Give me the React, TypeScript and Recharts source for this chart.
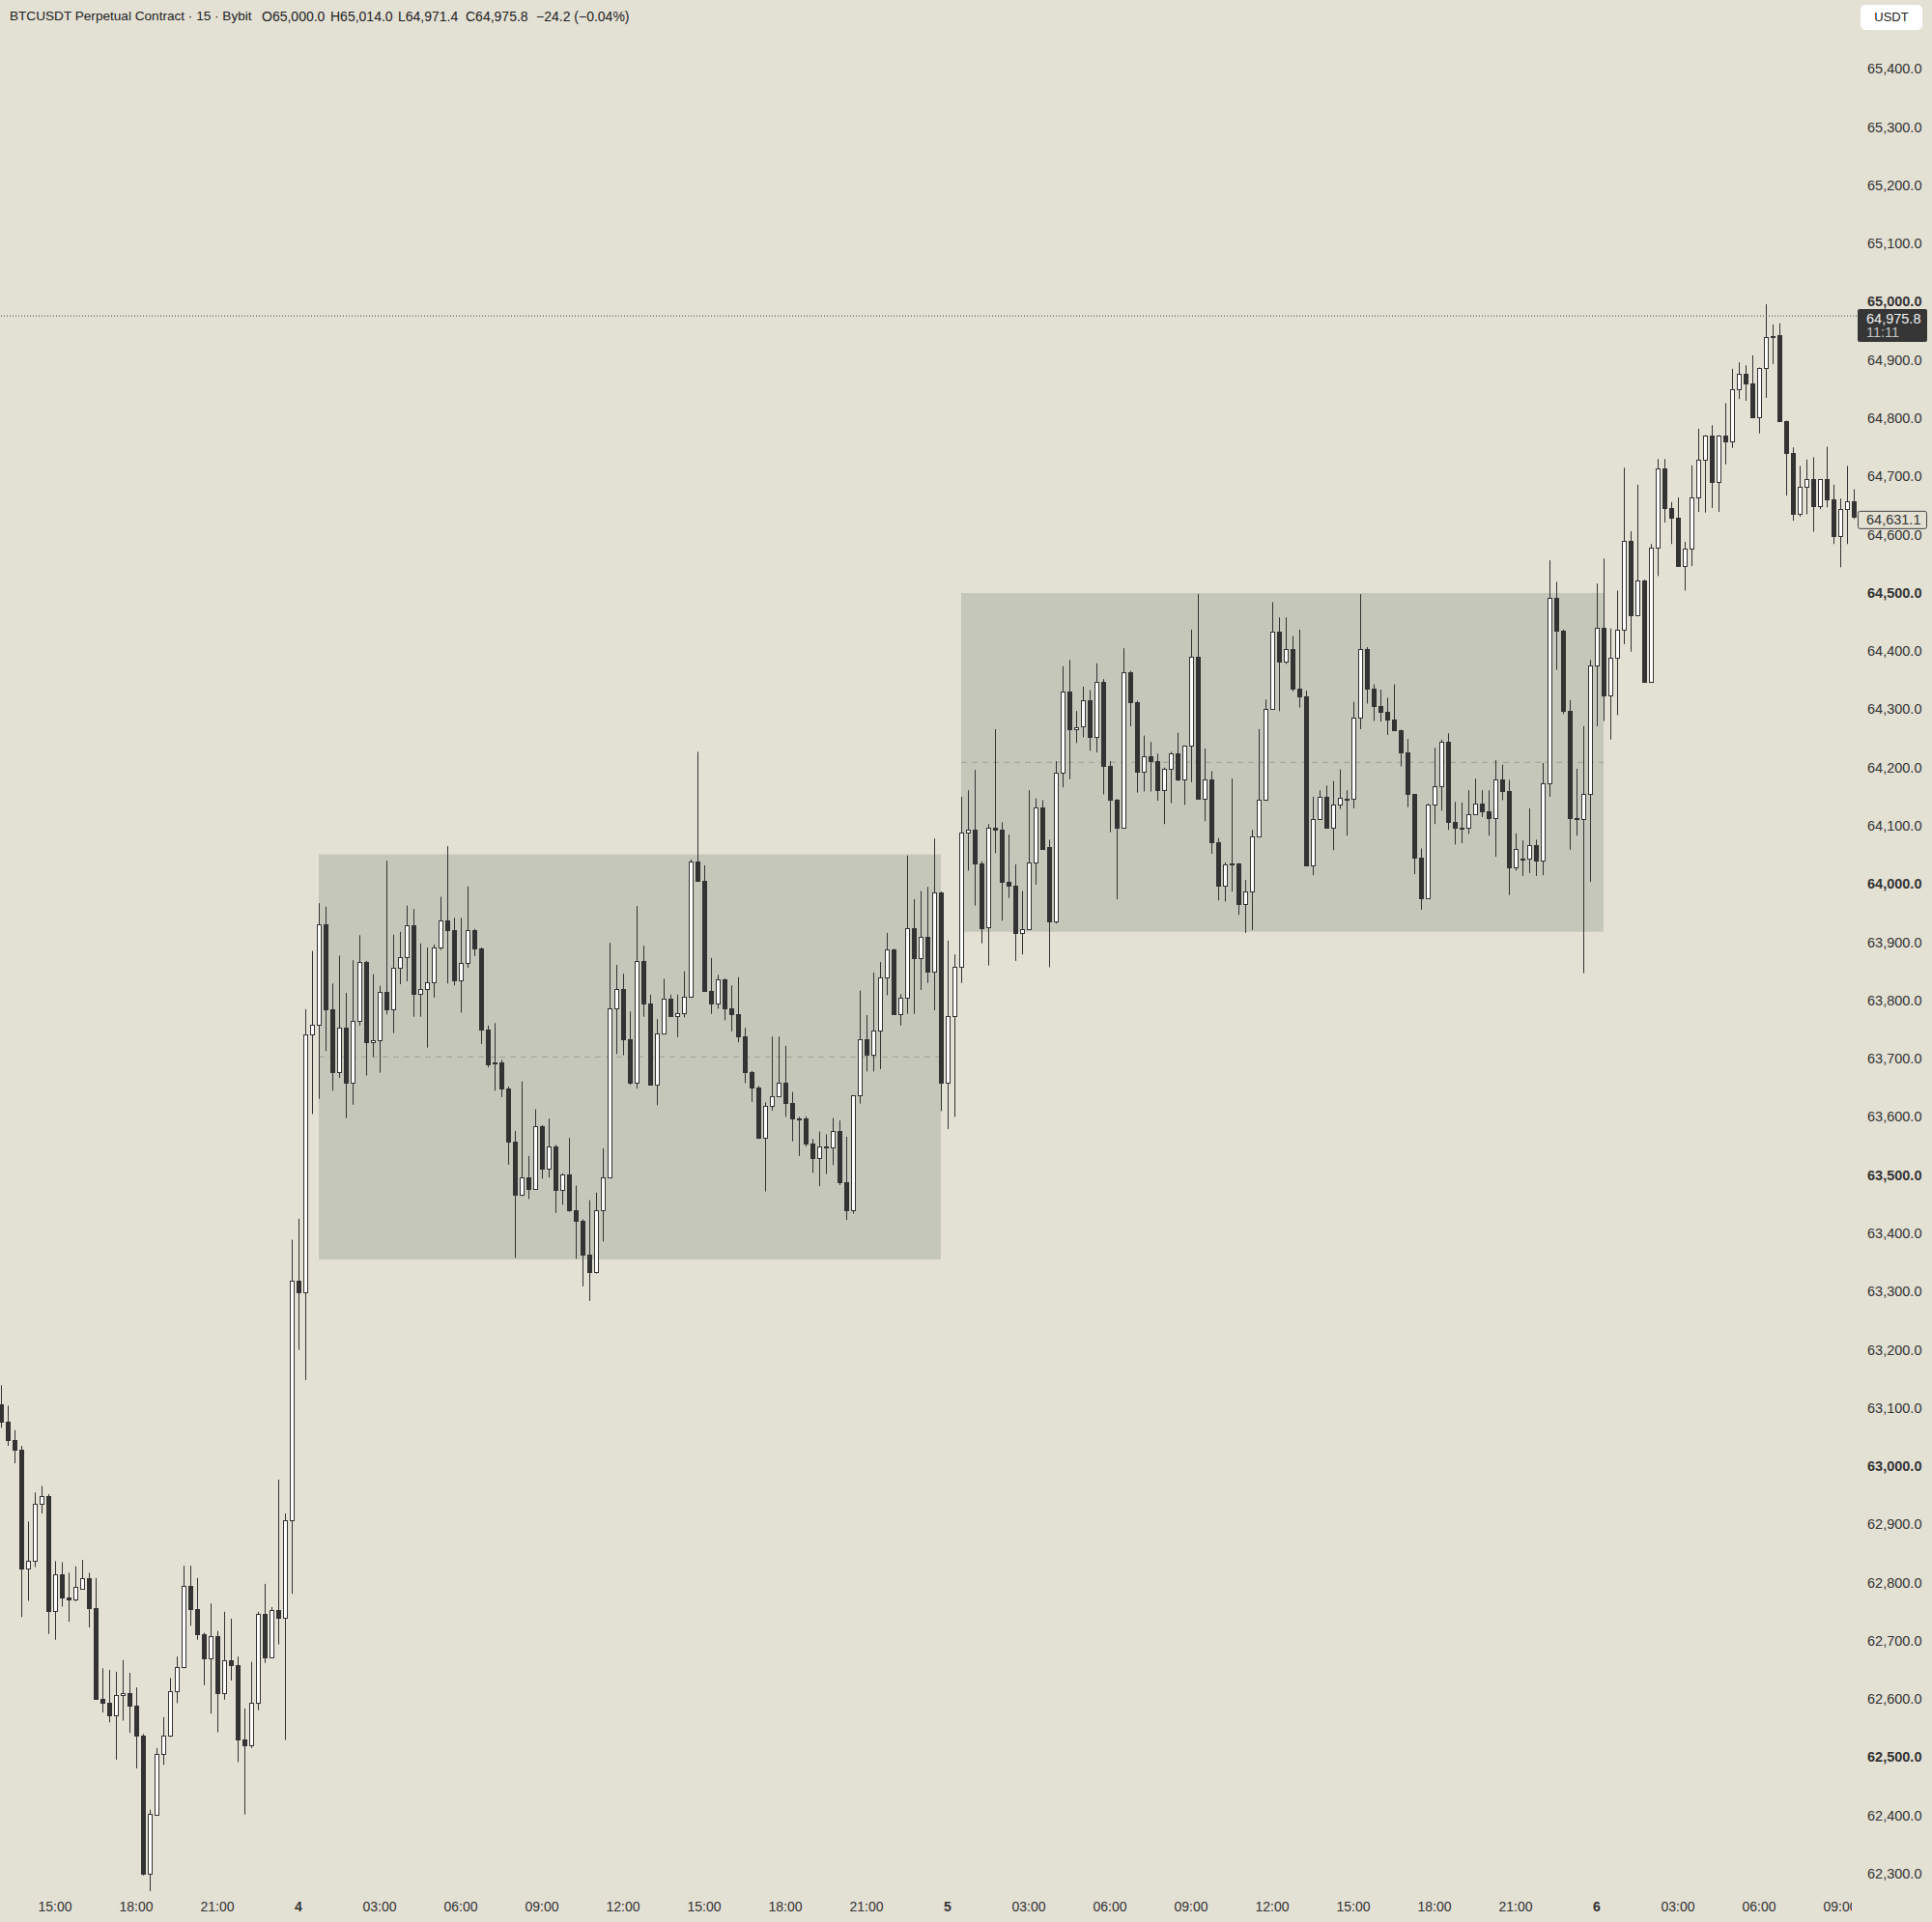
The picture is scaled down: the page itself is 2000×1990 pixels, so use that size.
import { ComposedChart, Bar, XAxis, YAxis, ReferenceArea, ReferenceLine } from 'recharts'

// BTCUSDT 15m candles, day 3 13:00 -> day 6 09:30 (index 0 = 13:00)
const opens = [
  63107, 63077, 63045, 63029, 62825, 62837, 62935, 62949, 62751, 62814, 62775, 62771, 62790, 62808, 62757, 62601, 62594, 62572, 62607, 62611,
  62588, 62537, 62300, 62402, 62506, 62537, 62613, 62655, 62795, 62754, 62712, 62670, 62708, 62610, 62667, 62659, 62531, 62521, 62594, 62747,
  62671, 62753, 62739, 62907, 63318, 63298, 63742, 63759, 63931, 63785, 63677, 63754, 63659, 63765, 63866, 63729, 63732, 63815, 63785, 63856,
  63875, 63929, 63811, 63819, 63832, 63891, 63938, 63921, 63834, 63864, 63921, 63889, 63750, 63692, 63694, 63649, 63557, 63467, 63497, 63477,
  63584, 63511, 63550, 63475, 63501, 63440, 63422, 63363, 63334, 63440, 63497, 63787, 63820, 63733, 63659, 63867, 63794, 63656, 63743, 63803,
  63773, 63778, 63807, 64038, 64006, 63816, 63794, 63836, 63786, 63776, 63738, 63677, 63651, 63565, 63619, 63636, 63659, 63624, 63598, 63597,
  63554, 63530, 63550, 63547, 63576, 63488, 63439, 63637, 63733, 63707, 63748, 63840, 63887, 63777, 63805, 63925, 63873, 63910, 63850, 63985,
  63659, 63773, 63858, 64089, 64094, 64035, 63926, 64096, 64093, 64003, 63997, 63916, 63923, 64037, 64132, 64063, 63936, 64191, 64331, 64266,
  64271, 64316, 64252, 64347, 64203, 64144, 64096, 64364, 64312, 64193, 64219, 64211, 64161, 64198, 64224, 64179, 64237, 64391, 64147, 64179,
  64072, 63997, 64036, 64035, 63965, 63987, 64082, 64144, 64300, 64433, 64382, 64404, 64336, 64323, 64032, 64111, 64150, 64096, 64136, 64147,
  64146, 64286, 64404, 64335, 64306, 64295, 64282, 64265, 64226, 64154, 64045, 63976, 64137, 64168, 64245, 64107, 64096, 64096, 64120, 64139,
  64125, 64114, 64179, 64159, 64028, 64044, 64043, 64067, 64041, 64173, 64491, 64435, 64297, 64114, 64111, 64154, 64376, 64440, 64324, 64388,
  64437, 64589, 64462, 64522, 64347, 64578, 64713, 64646, 64629, 64547, 64576, 64664, 64728, 64771, 64691, 64771, 64760, 64850, 64877, 64859,
  64802, 64887, 64941, 64942, 64795, 64740, 64636, 64683, 64695, 64649, 64695, 64660, 64598, 64644, 64657,
]
const highs = [
  63139, 63104, 63062, 63035, 62905, 62955, 62966, 62952, 62837, 62835, 62817, 62828, 62839, 62817, 62808, 62653, 62650, 62647, 62667, 62645,
  62620, 62540, 62410, 62516, 62569, 62636, 62673, 62829, 62829, 62808, 62714, 62764, 62717, 62750, 62738, 62673, 62584, 62664, 62750, 62798,
  62758, 62977, 62919, 63389, 63425, 63785, 63885, 63967, 63961, 63829, 63877, 63813, 63869, 63912, 63868, 63845, 63825, 64040, 63913, 63918,
  63963, 63957, 63898, 63891, 63896, 63978, 64065, 63942, 63942, 63996, 63923, 63891, 63757, 63761, 63698, 63652, 63576, 63661, 63533, 63613,
  63586, 63597, 63552, 63503, 63564, 63482, 63424, 63457, 63470, 63546, 63899, 63861, 63846, 63781, 63962, 63894, 63810, 63768, 63837, 63810,
  63810, 63850, 64042, 64227, 64032, 63873, 63844, 63838, 63826, 63840, 63753, 63679, 63653, 63625, 63738, 63738, 63722, 63643, 63600, 63601,
  63562, 63575, 63570, 63598, 63594, 63566, 63637, 63817, 63775, 63848, 63866, 63916, 63889, 63811, 64049, 63974, 63988, 63995, 64078, 63987,
  63903, 63879, 64150, 64161, 64196, 64039, 64103, 64266, 64106, 64085, 64034, 63988, 64161, 64147, 64144, 64076, 64211, 64374, 64385, 64297,
  64339, 64333, 64379, 64352, 64211, 64146, 64405, 64366, 64315, 64255, 64244, 64224, 64200, 64227, 64260, 64238, 64437, 64498, 64233, 64194,
  64079, 64037, 64181, 64036, 64007, 64093, 64266, 64317, 64484, 64458, 64458, 64426, 64437, 64332, 64150, 64161, 64169, 64177, 64197, 64161,
  64313, 64498, 64407, 64343, 64334, 64320, 64343, 64265, 64249, 64154, 64061, 64138, 64234, 64248, 64259, 64141, 64140, 64161, 64181, 64161,
  64161, 64213, 64205, 64179, 64087, 64075, 64130, 64076, 64208, 64556, 64519, 64437, 64316, 64198, 64271, 64385, 64516, 64559, 64439, 64504,
  64715, 64606, 64686, 64523, 64584, 64730, 64730, 64656, 64664, 64588, 64719, 64782, 64771, 64788, 64771, 64826, 64885, 64896, 64891, 64908,
  64887, 64996, 64961, 64963, 64796, 64750, 64718, 64729, 64733, 64695, 64751, 64686, 64662, 64718, 64678,
]
const lows = [
  63066, 63035, 63005, 62741, 62769, 62827, 62919, 62712, 62702, 62759, 62733, 62768, 62789, 62723, 62601, 62577, 62560, 62496, 62563, 62542,
  62481, 62297, 62270, 62400, 62487, 62535, 62593, 62653, 62726, 62702, 62624, 62575, 62543, 62599, 62632, 62492, 62402, 62516, 62581, 62662,
  62671, 62694, 62530, 62781, 63200, 63148, 63605, 63631, 63713, 63645, 63667, 63598, 63621, 63757, 63671, 63703, 63676, 63776, 63744, 63828,
  63833, 63772, 63772, 63719, 63805, 63887, 63829, 63826, 63779, 63856, 63876, 63725, 63685, 63645, 63634, 63518, 63358, 63464, 63459, 63477,
  63494, 63496, 63435, 63449, 63437, 63356, 63309, 63284, 63331, 63386, 63495, 63708, 63706, 63655, 63649, 63772, 63656, 63620, 63743, 63773,
  63737, 63771, 63806, 64006, 63816, 63777, 63786, 63766, 63747, 63728, 63658, 63626, 63562, 63472, 63611, 63635, 63600, 63558, 63533, 63549,
  63504, 63481, 63502, 63517, 63483, 63423, 63434, 63623, 63678, 63678, 63682, 63809, 63775, 63757, 63777, 63777, 63818, 63830, 63783, 63610,
  63579, 63600, 63830, 64023, 63963, 63898, 63860, 64053, 63937, 63976, 63868, 63879, 63923, 63999, 64060, 63857, 63932, 64166, 64180, 64242,
  64252, 64229, 64226, 64154, 64089, 63974, 64095, 64271, 64157, 64159, 64159, 64143, 64103, 64139, 64177, 64136, 64175, 64146, 64108, 64052,
  63972, 63970, 63987, 63947, 63916, 63921, 64081, 64143, 64299, 64297, 64378, 64331, 64303, 64032, 64015, 64110, 64096, 64058, 64129, 64083,
  64130, 64266, 64310, 64280, 64279, 64256, 64265, 64202, 64132, 64017, 63956, 63975, 64103, 64126, 64093, 64068, 64070, 64086, 64120, 64115,
  64083, 64047, 64144, 63981, 64023, 64014, 64019, 64014, 64015, 64150, 64368, 64292, 64059, 64083, 63847, 64004, 64271, 64280, 64248, 64290,
  64412, 64399, 64461, 64347, 64346, 64529, 64621, 64584, 64547, 64504, 64546, 64639, 64638, 64646, 64639, 64721, 64749, 64833, 64830, 64801,
  64774, 64835, 64893, 64795, 64667, 64624, 64631, 64635, 64605, 64644, 64647, 64584, 64544, 64584, 64627,
]
const closes = [
  63076, 63045, 63029, 62825, 62837, 62935, 62949, 62751, 62814, 62775, 62772, 62792, 62808, 62757, 62601, 62593, 62572, 62607, 62611, 62588,
  62537, 62300, 62403, 62506, 62537, 62613, 62655, 62795, 62754, 62712, 62670, 62708, 62610, 62667, 62659, 62530, 62521, 62594, 62747, 62671,
  62753, 62739, 62907, 63318, 63298, 63742, 63759, 63931, 63785, 63677, 63754, 63659, 63765, 63866, 63729, 63732, 63815, 63785, 63856, 63875,
  63929, 63811, 63819, 63832, 63891, 63938, 63921, 63834, 63864, 63921, 63889, 63750, 63691, 63694, 63649, 63557, 63467, 63497, 63477, 63584,
  63511, 63550, 63475, 63501, 63440, 63422, 63363, 63334, 63440, 63497, 63787, 63820, 63733, 63658, 63867, 63794, 63656, 63743, 63803, 63773,
  63778, 63807, 64038, 64006, 63816, 63794, 63836, 63786, 63776, 63738, 63677, 63651, 63565, 63619, 63636, 63659, 63624, 63597, 63597, 63554,
  63530, 63550, 63547, 63576, 63488, 63439, 63637, 63733, 63707, 63748, 63840, 63887, 63777, 63805, 63925, 63873, 63910, 63850, 63985, 63659,
  63773, 63858, 64089, 64093, 64035, 63925, 64096, 64093, 64003, 63997, 63916, 63923, 64037, 64132, 64061, 63936, 64191, 64331, 64266, 64270,
  64316, 64252, 64347, 64203, 64144, 64096, 64364, 64312, 64193, 64219, 64211, 64161, 64198, 64224, 64179, 64237, 64391, 64147, 64179, 64072,
  63997, 64034, 64035, 63965, 63987, 64082, 64144, 64300, 64433, 64382, 64404, 64336, 64323, 64032, 64111, 64150, 64096, 64136, 64148, 64146,
  64286, 64404, 64335, 64306, 64295, 64282, 64265, 64226, 64154, 64045, 63976, 64137, 64168, 64245, 64107, 64096, 64096, 64120, 64139, 64125,
  64114, 64179, 64159, 64028, 64061, 64043, 64067, 64041, 64173, 64491, 64435, 64297, 64114, 64111, 64154, 64376, 64440, 64324, 64388, 64437,
  64589, 64462, 64522, 64347, 64578, 64713, 64646, 64629, 64547, 64576, 64664, 64728, 64771, 64691, 64771, 64760, 64850, 64877, 64859, 64802,
  64887, 64940, 64940, 64795, 64740, 64636, 64683, 64695, 64649, 64695, 64660, 64598, 64644, 64657, 64631,
]

const tickIdx = [8, 20, 32, 44, 56, 68, 80, 92, 104, 116, 128, 140, 152, 164, 176, 188, 200, 212, 224, 236, 248, 260, 272]
const tickLabels = [
  '15:00', '18:00', '21:00', '4', '03:00', '06:00', '09:00', '12:00', '15:00', '18:00', '21:00', '5',
  '03:00', '06:00', '09:00', '12:00', '15:00', '18:00', '21:00', '6', '03:00', '06:00', '09:00',
]
const dayLabels = ['4', '5', '6']

const priceTicks = [
  62300, 62400, 62500, 62600, 62700, 62800, 62900, 63000, 63100, 63200, 63300, 63400, 63500, 63600, 63700, 63800,
  63900, 64000, 64100, 64200, 64300, 64400, 64500, 64600, 64700, 64800, 64900, 65000, 65100, 65200, 65300, 65400,
]
const boldPrices = [62500, 63000, 63500, 64000, 64500, 65000]

// consolidation ranges drawn on the chart
const rangeFrom = [47, 142]
const rangeTo = [139, 237]
const rangeLow = [63355, 63918]
const rangeHigh = [64051, 64500]
const rangeMid = [63703, 64209]

const lastPrice = 64975.8
const lastTimer = '11:11'
const markPrice = 64631.1

const BG = '#E3E0D4'
const BOX = '#C5C7BA'
const INK = '#333333'
const FONT = '"Liberation Sans", Arial, sans-serif'

const candles = opens.map((o, i) => ({
  i,
  open: o,
  high: highs[i],
  low: lows[i],
  close: closes[i],
  range: [lows[i], highs[i]],
}))

const fmt = (v: number) =>
  v.toLocaleString('en-US', { minimumFractionDigits: 1, maximumFractionDigits: 1 })

function Candle(props: any) {
  const { x, y, width, height, payload } = props
  if (x == null || y == null || !payload) return null
  const { open, close, high, low } = payload
  const top = Math.min(y, y + height)
  const h = Math.abs(height)
  const k = high === low ? 0 : h / (high - low)
  const py = (v: number) => top + (high - v) * k
  const cx = Math.round(x + width / 2) + 0.5
  const up = close >= open
  const bTop = Math.round(py(Math.max(open, close))) + 0.5
  const bBot = Math.round(py(Math.min(open, close))) + 0.5
  return (
    <g>
      <line x1={cx} x2={cx} y1={top} y2={top + h} stroke={INK} strokeWidth={1} />
      <rect
        x={cx - 2}
        y={bTop}
        width={4}
        height={Math.max(bBot - bTop, 1)}
        fill={up ? '#ffffff' : INK}
        stroke={INK}
        strokeWidth={1}
      />
    </g>
  )
}

function XTick(props: any) {
  const { x, payload, index } = props
  const pos = tickIdx.indexOf(payload.value)
  const label = tickLabels[pos] ?? ''
  return (
    <g>
      {index === 0 && (
        <defs>
          <clipPath id="xTickClip">
            <rect x={0} y={1940} width={1917} height={50} />
          </clipPath>
        </defs>
      )}
      <text
        x={x}
        y={1974}
        textAnchor="middle"
        dominantBaseline="central"
        fontSize={14}
        fontFamily={FONT}
        fontWeight={dayLabels.includes(label) ? 700 : 400}
        fill={INK}
        clipPath="url(#xTickClip)"
      >
        {label}
      </text>
    </g>
  )
}

function YTick(props: any) {
  const { y, payload } = props
  const v = payload.value
  return (
    <text
      x={1933}
      y={y}
      textAnchor="start"
      dominantBaseline="central"
      fontSize={14.5}
      fontFamily={FONT}
      fontWeight={boldPrices.includes(v) ? 700 : 400}
      fill={INK}
    >
      {fmt(v)}
    </text>
  )
}

function LastTag(props: any) {
  const ly = props.viewBox?.y ?? 0
  return (
    <g>
      <rect x={1923} y={ly - 7} width={72} height={34} rx={2} fill="#363636" />
      <text x={1932} y={ly + 3} dominantBaseline="central" fontSize={14.5} fontFamily={FONT} fill="#f2f2f2">
        {fmt(lastPrice)}
      </text>
      <text x={1932} y={ly + 17} dominantBaseline="central" fontSize={14.5} fontFamily={FONT} fill="#c4c4c4">
        {lastTimer}
      </text>
    </g>
  )
}

function MarkTag(props: any) {
  const ly = props.viewBox?.y ?? 0
  return (
    <g>
      <rect x={1923.5} y={ly - 5.5} width={71} height={18} rx={2} fill={BG} stroke="#444" strokeWidth={1} />
      <text x={1932} y={ly + 3.5} dominantBaseline="central" fontSize={14.5} fontFamily={FONT} fill={INK}>
        {fmt(markPrice)}
      </text>
    </g>
  )
}

export default function App() {
  return (
    <div
      style={{
        position: 'absolute',
        left: 0,
        top: 0,
        width: 2000,
        height: 1990,
        background: BG,
        overflow: 'hidden',
        fontFamily: FONT,
      }}
    >
      <ComposedChart width={2000} height={1990} data={candles} margin={{ top: 0, right: 0, bottom: 0, left: 0 }}>
        <XAxis
          dataKey="i"
          type="number"
          domain={[-1 / 7, 1921 / 7]}
          allowDataOverflow
          ticks={tickIdx}
          interval={0}
          tick={<XTick />}
          tickLine={false}
          axisLine={false}
          height={28}
        />
        <YAxis
          orientation="right"
          type="number"
          domain={[62263.6, 65518.4]}
          allowDataOverflow
          ticks={priceTicks}
          interval={0}
          tick={<YTick />}
          tickLine={false}
          axisLine={false}
          width={78}
        />
        {rangeFrom.map((f, k) => (
          <ReferenceArea
            key={`area-${k}`}
            x1={f}
            x2={rangeTo[k]}
            y1={rangeLow[k]}
            y2={rangeHigh[k]}
            fill={BOX}
            fillOpacity={1}
            stroke="none"
            ifOverflow="visible"
            zIndex={0}
          />
        ))}
        {rangeFrom.map((f, k) => (
          <ReferenceLine
            key={`mid-${k}`}
            segment={[
              { x: f, y: rangeMid[k] },
              { x: rangeTo[k], y: rangeMid[k] },
            ]}
            stroke="#9c9f93"
            strokeDasharray="6 5"
            strokeWidth={1}
            zIndex={50}
          />
        ))}
        <Bar dataKey="range" barSize={5} shape={(p: any) => <Candle {...p} />} isAnimationActive={false} />
        <ReferenceLine
          y={lastPrice}
          stroke="#4a4a4a"
          strokeDasharray="1 2"
          strokeWidth={1}
          label={(p: any) => <LastTag {...p} />}
        />
        <ReferenceLine y={markPrice} stroke="none" strokeOpacity={0} label={(p: any) => <MarkTag {...p} />} />
      </ComposedChart>

      <div
        style={{
          position: 'absolute',
          left: 0,
          top: 8,
          width: 700,
          height: 18,
          fontSize: 14,
          lineHeight: '18px',
          color: '#222',
          whiteSpace: 'pre',
        }}
      >
        <span style={{ position: 'absolute', left: 10, fontSize: 13.6 }}>BTCUSDT Perpetual Contract · 15 · Bybit</span>
        <span style={{ position: 'absolute', left: 271 }}>O65,000.0</span>
        <span style={{ position: 'absolute', left: 342 }}>H65,014.0</span>
        <span style={{ position: 'absolute', left: 412 }}>L64,971.4</span>
        <span style={{ position: 'absolute', left: 482 }}>C64,975.8</span>
        <span style={{ position: 'absolute', left: 555 }}>−24.2 (−0.04%)</span>
      </div>

      <div
        style={{
          position: 'absolute',
          left: 1926,
          top: 5,
          width: 64,
          height: 26,
          background: '#ffffff',
          borderRadius: 5,
          fontSize: 13,
          lineHeight: '26px',
          textAlign: 'center',
          color: '#222',
        }}
      >
        USDT
      </div>
    </div>
  )
}
